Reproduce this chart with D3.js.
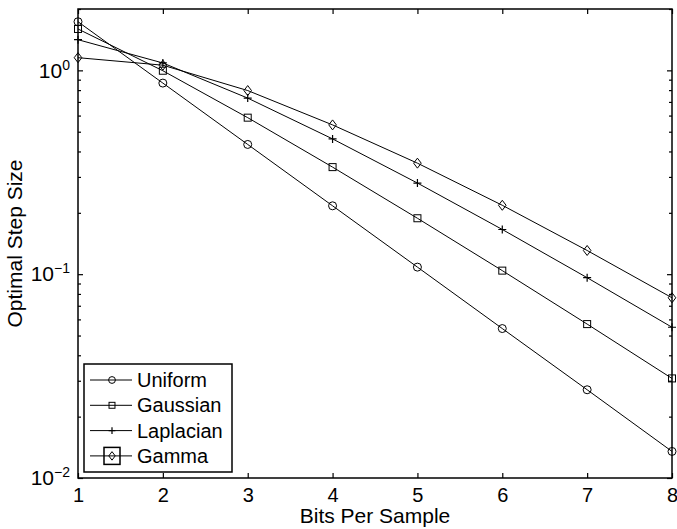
<!DOCTYPE html>
<html>
<head>
<meta charset="utf-8">
<script src="https://cdn.jsdelivr.net/npm/d3@7"></script>
<style>
  body { margin: 0; background: #fff; }
  text { font-family: "Liberation Sans", Arial, sans-serif; fill: #000; }
</style>
</head>
<body>
<div id="chart"></div>
<script>
// Chart constants
const CHART_WIDTH = 677;
const CHART_HEIGHT = 529;
const MARGIN = { left: 78, top: 9, right: 5, bottom: 51 };

// Data: optimal uniform quantizer step size per bits/sample
const bits = [1, 2, 3, 4, 5, 6, 7, 8];
const uniformStep = [1.732, 0.866, 0.433, 0.2165, 0.1083, 0.0541, 0.0271, 0.0135];
const gaussianStep = [1.596, 0.9957, 0.586, 0.3352, 0.1881, 0.1041, 0.0569, 0.0308];
const laplacianStep = [1.414, 1.087, 0.7309, 0.461, 0.28, 0.1657, 0.0961, 0.0549];
const gammaStep = [1.154, 1.06, 0.796, 0.54, 0.3505, 0.2178, 0.1307, 0.0766];

const seriesNames = ['Uniform', 'Gaussian', 'Laplacian', 'Gamma'];
const seriesMarkers = ['circle', 'square', 'plus', 'diamond'];
const yMajorTicks = [0.01, 0.1, 1];
const xTicks = [1, 2, 3, 4, 5, 6, 7, 8];

const series = [uniformStep, gaussianStep, laplacianStep, gammaStep].map((vals, i) => ({
  name: seriesNames[i],
  marker: seriesMarkers[i],
  values: vals.map((v, j) => ({ x: bits[j], y: v }))
}));

setup();

function setup () {
  const svg = d3.select('#chart')
    .append('svg')
    .attr('width', CHART_WIDTH)
    .attr('height', CHART_HEIGHT);

  const x0 = MARGIN.left, x1 = CHART_WIDTH - MARGIN.right;
  const y0 = MARGIN.top, y1 = CHART_HEIGHT - MARGIN.bottom;

  const xScale = d3.scaleLinear().domain([1, 8]).range([x0, x1]);
  const yScale = d3.scaleLog().domain([0.01, 2]).range([y1, y0]);

  // minor tick values for the log axis
  const minor = [];
  [0.01, 0.1, 1].forEach(d => {
    for (let k = 2; k <= 9; k++) {
      const v = d * k;
      if (v <= 2) minor.push(v);
    }
  });

  // axes: ticks point inward
  const bottom = svg.append('g')
    .attr('transform', `translate(0, ${y1})`)
    .call(d3.axisBottom(xScale).tickValues(xTicks).tickSize(-5).tickPadding(10).tickFormat(d3.format('d')));
  bottom.selectAll('text').attr('font-size', 20);

  svg.append('g')
    .attr('transform', `translate(0, ${y0})`)
    .call(d3.axisTop(xScale).tickValues(xTicks).tickSize(-5).tickFormat(''));

  const left = svg.append('g')
    .attr('transform', `translate(${x0}, 0)`)
    .call(d3.axisLeft(yScale).tickValues(yMajorTicks).tickSize(-5).tickPadding(8).tickFormat(''));

  svg.append('g')
    .attr('transform', `translate(${x0}, 0)`)
    .call(d3.axisLeft(yScale).tickValues(minor).tickSize(-3).tickFormat(''));

  svg.append('g')
    .attr('transform', `translate(${x1}, 0)`)
    .call(d3.axisRight(yScale).tickValues(yMajorTicks).tickSize(-5).tickFormat(''));

  svg.append('g')
    .attr('transform', `translate(${x1}, 0)`)
    .call(d3.axisRight(yScale).tickValues(minor).tickSize(-3).tickFormat(''));

  svg.selectAll('.domain').remove();
  svg.selectAll('.tick line').attr('stroke', '#000').attr('stroke-width', 1.2);

  // box around the plot
  svg.append('rect')
    .attr('x', x0).attr('y', y0)
    .attr('width', x1 - x0).attr('height', y1 - y0)
    .attr('fill', 'none').attr('stroke', '#000').attr('stroke-width', 1.5);

  // y tick labels as 10^k
  left.selectAll('.tick').each(function (d) {
    const t = d3.select(this).append('text')
      .attr('x', -8).attr('dy', '0.32em')
      .attr('text-anchor', 'end')
      .attr('font-size', 21);
    const exp = Math.round(Math.log10(d));
    t.append('tspan').text('10');
    t.append('tspan').attr('font-size', 14).attr('dy', -8)
      .text(exp < 0 ? '\u2212' + (-exp) : String(exp));
  });

  // axis labels
  svg.append('text')
    .attr('x', (x0 + x1) / 2).attr('y', 523)
    .attr('text-anchor', 'middle').attr('font-size', 21)
    .text('Bits Per Sample');

  svg.append('text')
    .attr('transform', `translate(22, ${(y0 + y1) / 2}) rotate(-90)`)
    .attr('text-anchor', 'middle').attr('font-size', 21)
    .text('Optimal Step Size');

  // lines
  const line = d3.line()
    .x(d => xScale(d.x))
    .y(d => yScale(d.y));

  const plot = svg.append('g');

  plot.selectAll('path.series')
    .data(series)
    .join('path')
    .attr('class', 'series')
    .attr('d', d => line(d.values))
    .attr('fill', 'none')
    .attr('stroke', '#000')
    .attr('stroke-width', 1);

  series.forEach(s => {
    plot.append('g')
      .selectAll('g')
      .data(s.values)
      .join('g')
      .attr('transform', d => `translate(${xScale(d.x)}, ${yScale(d.y)})`)
      .each(function () { drawMarker(d3.select(this), s.marker, 1); });
  });

  // legend
  const legend = svg.append('g');
  legend.append('rect')
    .attr('x', 84).attr('y', 364)
    .attr('width', 148).attr('height', 108)
    .attr('fill', '#fff').attr('stroke', '#000').attr('stroke-width', 1.5);

  series.forEach((s, i) => {
    const cy = 380 + i * 25.3;
    const g = legend.append('g');
    g.append('line')
      .attr('x1', 90).attr('x2', 132)
      .attr('y1', cy).attr('y2', cy)
      .attr('stroke', '#000').attr('stroke-width', 1);
    const m = g.append('g').attr('transform', `translate(112, ${cy})`);
    drawMarker(m, s.marker, 0.85);
    if (s.marker === 'diamond') {
      m.append('rect')
        .attr('x', -8).attr('y', -8.5)
        .attr('width', 16).attr('height', 17)
        .attr('fill', 'none').attr('stroke', '#000').attr('stroke-width', 1.5);
    }
    g.append('text')
      .attr('x', 137).attr('y', cy)
      .attr('dy', '0.35em')
      .attr('font-size', 20)
      .text(s.name);
  });
}

function drawMarker (g, type, scale) {
  const s = scale;
  if (type === 'circle') {
    g.append('circle').attr('r', 4 * s)
      .attr('fill', 'none').attr('stroke', '#000').attr('stroke-width', 1);
  } else if (type === 'square') {
    g.append('rect').attr('x', -3.5 * s).attr('y', -3.5 * s)
      .attr('width', 7 * s).attr('height', 7 * s)
      .attr('fill', 'none').attr('stroke', '#000').attr('stroke-width', 1);
  } else if (type === 'plus') {
    g.append('path')
      .attr('d', `M${-4 * s},0H${4 * s}M0,${-4 * s}V${4 * s}`)
      .attr('stroke', '#000').attr('stroke-width', 1.2);
  } else if (type === 'diamond') {
    g.append('path')
      .attr('d', `M0,${-5 * s}L${3.8 * s},0L0,${5 * s}L${-3.8 * s},0Z`)
      .attr('fill', 'none').attr('stroke', '#000').attr('stroke-width', 1);
  }
}
</script>
</body>
</html>
